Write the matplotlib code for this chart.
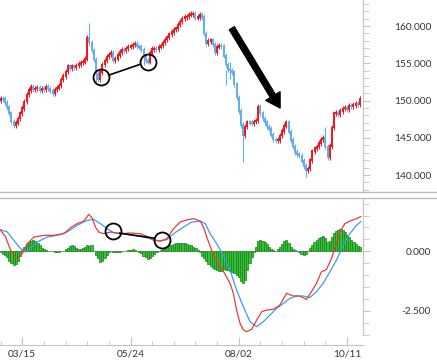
import numpy as np
import matplotlib
matplotlib.use("Agg")
import matplotlib.pyplot as plt
from matplotlib.lines import Line2D

plt.rcParams['font.family'] = ['Lato', 'DejaVu Sans']

# daily closes (one bar per trading day)
closes = [
    150.3, 150.2, 149.7, 149.1, 148.3, 147.2, 146.7, 147.0, 147.6, 148.3,
    149.0, 149.9, 150.8, 151.4, 151.8, 151.5, 151.6, 151.7, 151.4, 151.6,
    151.5, 151.8, 151.6, 151.3, 151.0, 151.5, 151.7, 152.0, 152.8, 153.3,
    153.9, 154.6, 154.3, 154.6, 154.4, 154.7, 154.9, 155.1, 155.2, 155.6,
    158.4, 157.8, 156.7, 155.5, 153.6, 152.9, 153.8, 154.8, 155.4, 155.9,
    156.2, 156.4, 155.4, 155.6, 156.1, 156.5, 156.8, 156.7, 157.0, 157.2,
    157.3, 157.5, 157.6, 157.3, 157.2, 156.8, 156.0, 155.4, 155.2, 156.4,
    156.9, 157.0, 156.9, 157.2, 157.4, 157.8, 158.2, 158.5, 158.9, 159.2,
    159.5, 159.7, 160.2, 160.6, 161.0, 161.2, 161.3, 161.5, 161.6, 161.6,
    161.1, 161.2, 161.5, 161.2, 159.0, 157.7, 158.0, 158.1, 157.5, 156.5,
    157.2, 157.4, 157.3, 156.0, 154.8, 154.2, 154.0, 153.8, 152.2, 150.4,
    148.6, 146.7, 145.3, 146.5, 147.1, 147.0, 146.9, 147.2, 147.3, 149.2,
    148.3, 147.6, 147.1, 146.5, 146.2, 145.4, 144.8, 144.6, 144.7, 145.3,
    145.9, 146.6, 147.1, 145.8, 144.7, 143.8, 143.1, 142.8, 142.6, 141.9,
    141.2, 140.6, 140.9, 142.0, 143.2, 143.6, 143.8, 144.3, 144.8, 145.0,
    143.8, 142.4, 143.9, 146.4, 148.3, 148.4, 148.2, 148.6, 148.9, 149.0,
    148.8, 149.3, 149.2, 149.4, 149.6, 149.5, 150.3]
first_open = 150.0

# long shadows that stand out
wick_idx = [24, 41, 44, 66, 104, 106, 112, 141, 150]
wick_hi = [151.6, 160.4, 155.0, 156.9, 154.1, 155.2, 146.5, 141.5, 146.5]
wick_lo = [150.9, 157.5, 152.5, 154.8, 152.1, 152.9, 141.8, 139.8, 143.5]

# MACD (red) and signal (blue)
macd_x = [0, 2.3, 4.6, 6.9, 8.4, 10, 12.3, 15.4, 20, 24.6,
          29.2, 32.3, 35.3, 38.4, 40.7, 42.2, 43.8, 45.3, 47.6, 50.7,
          55.3, 59.9, 64.5, 67.6, 70.7, 73.7, 76.8, 79.9, 82.9, 86,
          89.1, 92.2, 93.7, 95.2, 97.5, 99.8, 103, 106, 107.5, 109,
          110.6, 112.1, 113.7, 116, 118.3, 120.6, 122.9, 126, 129, 132.1,
          135.2, 138.2, 141.3, 143.6, 145.9, 148.2, 150.5, 152.8, 155.1, 156.7,
          159, 161.3, 164.4, 166.4]
macd = [0.88, 0.60, 0.04, -0.24, -0.24, -0.10, 0.32, 0.60, 0.67, 0.67,
        0.74, 0.99, 1.16, 1.27, 1.55, 1.41, 1.02, 0.81, 0.74, 0.81,
        0.74, 0.77, 0.74, 0.63, 0.46, 0.43, 0.53, 0.95, 1.23, 1.32,
        1.37, 1.27, 1.02, 0.60, 0.04, -0.40, -0.86, -1.35, -1.77, -2.47,
        -3.03, -3.30, -3.38, -3.28, -2.89, -2.54, -2.47, -2.44, -2.26, -1.77,
        -1.88, -1.88, -2.02, -1.70, -1.35, -0.86, -0.77, -0.31, 0.32, 0.81,
        1.16, 1.27, 1.37, 1.46]
sig_x = [0, 3.1, 6.1, 9.2, 11.5, 13.8, 16.9, 21.5, 26.1, 30.7,
         35.3, 39.9, 43, 46.1, 49.2, 52.2, 56.8, 61.4, 66.1, 70.7,
         73.7, 76.8, 79.9, 84.5, 88.3, 92.2, 94.5, 96.8, 99.8, 102.9,
         106, 109, 112.1, 115.2, 118.3, 121.4, 124.4, 127.5, 130.6, 133.6,
         136.7, 139.8, 142.9, 145.9, 149, 152.1, 155.1, 158.2, 161.3, 164.4,
         166.4]
signal = [0.91, 0.81, 0.46, 0.11, -0.03, 0.15, 0.39, 0.60, 0.67, 0.81,
          1.09, 1.30, 1.34, 1.16, 0.95, 0.78, 0.74, 0.67, 0.60, 0.49,
          0.43, 0.49, 0.74, 1.02, 1.23, 1.27, 1.16, 0.74, 0.32, -0.17,
          -0.80, -1.63, -2.33, -2.96, -3.17, -2.96, -2.68, -2.40, -2.19, -1.98,
          -1.88, -1.88, -1.94, -1.70, -1.35, -0.86, -0.38, 0.25, 0.74, 1.09,
          1.25]

# histogram, one value per bar
hist = [
    -0.05, -0.1, -0.15, -0.25, -0.4, -0.5, -0.58, -0.55, -0.4, -0.2,
    0.05, 0.2, 0.32, 0.4, 0.44, 0.46, 0.42, 0.35, 0.25, 0.15,
    0.08, 0.05, 0.03, 0.02, 0.01, -0.02, -0.03, -0.02, 0.0, 0.03,
    0.08, 0.15, 0.22, 0.25, 0.23, 0.15, 0.1, 0.08, 0.12, 0.2,
    0.25, 0.24, 0.25, 0.0, -0.15, -0.3, -0.45, -0.42, -0.3, -0.15,
    -0.05, 0.0, -0.03, -0.05, -0.03, -0.02, 0.0, 0.02, 0.03, 0.05,
    0.06, 0.08, 0.05, 0.02, -0.02, -0.08, -0.18, -0.26, -0.31, -0.3,
    -0.2, -0.12, -0.05, 0.0, 0.05, 0.1, 0.15, 0.2, 0.25, 0.28,
    0.31, 0.33, 0.35, 0.36, 0.35, 0.34, 0.3, 0.28, 0.25, 0.2,
    0.12, 0.05, -0.05, -0.2, -0.3, -0.4, -0.52, -0.62, -0.7, -0.76,
    -0.8, -0.83, -0.82, -0.75, -0.78, -0.8, -0.82, -0.85, -0.9, -0.98,
    -1.1, -1.25, -1.32, -1.2, -0.8, -0.5, -0.25, -0.05, 0.2, 0.42,
    0.48, 0.45, 0.4, 0.32, 0.2, 0.1, 0.05, 0.03, 0.08, 0.18,
    0.32, 0.44, 0.46, 0.35, 0.2, 0.1, 0.04, 0.02, -0.03, -0.1,
    -0.14, -0.12, 0.02, 0.15, 0.28, 0.38, 0.46, 0.55, 0.62, 0.65,
    0.55, 0.4, 0.45, 0.6, 0.75, 0.85, 0.9, 0.92, 0.88, 0.8,
    0.7, 0.58, 0.48, 0.38, 0.3, 0.22, 0.18]

date_pos = [10, 60, 110, 160]
date_labels = ['03/15', '05/24', '08/02', '10/11']
price_ticks = [140, 145, 150, 155, 160]
macd_ticks = [0, -2.5]

# annotations: circled divergence points and trend arrow
price_circles = [(46.4, 153.1), (68.1, 155.2)]
price_link = [(49.9, 153.4), (64.5, 154.86)]
macd_circles = [(51.7, 0.84), (74.4, 0.46)]
macd_link = [(55.0, 0.76), (71.1, 0.55)]
arrow_from = (106.8, 159.7)
arrow_to = (129.1, 149.0)

RED = '#f5141e'
BLUE = '#62aef0'
GREY = '#c4c4c4'
TXT = '#333333'

W, H = 437, 363
fig = plt.figure(figsize=(W / 100, H / 100), dpi=100)
ax1 = fig.add_axes([0, 1 - 192 / H, 363 / W, 192 / H])
ax2 = fig.add_axes([0, 1 - 345 / H, 363 / W, 147 / H])

# price candles
c = np.array(closes)
o = np.r_[first_open, c[:-1]]
idx = np.arange(len(c))
cols = np.where(c >= o, RED, BLUE)
lo = np.minimum(o, c)
hi = np.maximum(o, c)
ax1.vlines(idx, lo - 0.35, hi + 0.35, colors=cols, lw=0.7)
ax1.vlines(wick_idx, wick_lo, wick_hi, colors=[cols[i] for i in wick_idx], lw=0.8)
ax1.vlines(idx, lo - 0.1, hi + 0.1, colors=cols, lw=1.4)

ax1.annotate('', xy=arrow_to, xytext=arrow_from,
             arrowprops=dict(facecolor='black', edgecolor='black', width=4.2,
                             headwidth=12, headlength=10, shrink=0))
ax1.plot(*zip(*price_link), color='black', lw=1.2, zorder=5)
ax1.plot(*zip(*price_circles), ls='none', marker='o', ms=11.5, mfc='none',
         mec='black', mew=1.3, zorder=5)

ax1.set_xlim(-0.3, 167.4)
ax1.set_ylim(137.72, 163.49)

# MACD panel
ax2.bar(idx, hist, width=1.0, color='#36c236', edgecolor='#168016', linewidth=0.5)
ax2.plot(sig_x, signal, color='#3b9cf0', lw=0.9)
ax2.plot(macd_x, macd, color='#f03a3a', lw=0.9)
ax2.plot(*zip(*macd_link), color='black', lw=1.2, zorder=5)
ax2.plot(*zip(*macd_circles), ls='none', marker='o', ms=11.5, mfc='none',
         mec='black', mew=1.3, zorder=5)
ax2.set_xlim(-0.3, 167.4)
ax2.set_ylim(-3.94, 2.24)

for ax in (ax1, ax2):
    ax.set_facecolor('none')
    ax.spines['top'].set_visible(False)
    ax.spines['left'].set_visible(False)
    ax.spines['right'].set_color(GREY)
    ax.yaxis.tick_right()
    ax.tick_params(axis='y', which='major', direction='out', length=5,
                   color=GREY, labelsize=7.3, labelcolor=TXT, pad=44)
    ax.tick_params(axis='y', which='minor', direction='out', length=4, color=GREY)

ax1.spines['bottom'].set_visible(False)
ax1.set_xticks([])
ax1.set_yticks(price_ticks)
ax1.set_yticklabels([f'{t:.3f}' for t in price_ticks])
ax1.set_yticks(np.arange(138, 164, 1), minor=True)

ax2.spines['right'].set_bounds(-3.53, 2.24)
ax2.spines['bottom'].set_color(GREY)
ax2.set_yticks(macd_ticks)
ax2.set_yticklabels([f'{t:.3f}' for t in macd_ticks])
ax2.set_yticks(np.arange(-3.5, 2.01, 0.5), minor=True)
ax2.set_xticks(date_pos)
ax2.set_xticklabels(date_labels)
ax2.set_xticks(np.arange(0, 167, 10), minor=True)
ax2.tick_params(axis='x', which='major', direction='in', length=6, color=GREY,
                labelsize=7.3, labelcolor=TXT, pad=3)
ax2.tick_params(axis='x', which='minor', direction='in', length=3, color=GREY)

for ax in (ax1, ax2):
    for lab in ax.get_yticklabels():
        lab.set_horizontalalignment('right')

# panel separators across the full width
for yy in (192, 198):
    fig.add_artist(Line2D([0, 1], [1 - yy / H] * 2, transform=fig.transFigure,
                          color='#bdbdbd', lw=1))

fig.savefig('out.png', dpi=100)
